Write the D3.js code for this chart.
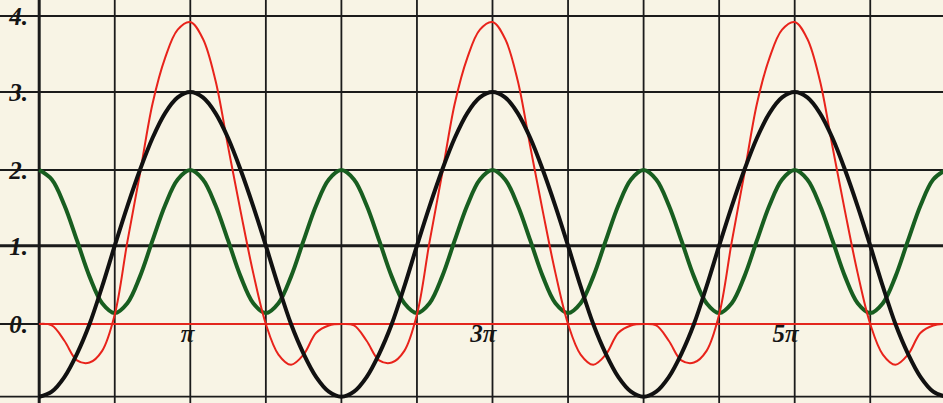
<!DOCTYPE html>
<html>
<head>
<meta charset="utf-8">
<script src="https://cdn.jsdelivr.net/npm/d3@7"></script>
<style>
  html, body { margin: 0; padding: 0; background: #f8f4e5; }
  svg { display: block; }
</style>
</head>
<body>
<svg id="chart" width="943" height="403"></svg>
<script>
// ---- data (x in units of π, sampled every π/12) ----
const xStep = 1 / 12;
const blackValues = [
  -1, -0.93, -0.73, -0.41, 0, 0.48, 1, 1.52, 2, 2.41, 2.73, 2.93, 3, 2.93, 2.73, 2.41, 2, 1.52, 1, 0.48, 0, -0.41, -0.73, -0.93,
  -1, -0.93, -0.73, -0.41, 0, 0.48, 1, 1.52, 2, 2.41, 2.73, 2.93, 3, 2.93, 2.73, 2.41, 2, 1.52, 1, 0.48, 0, -0.41, -0.73, -0.93,
  -1, -0.93, -0.73, -0.41, 0, 0.48, 1, 1.52, 2, 2.41, 2.73, 2.93, 3, 2.93, 2.73, 2.41, 2, 1.52, 1, 0.48, 0, -0.41, -0.73, -0.93,
  -1
];
const greenValues = [
  2.0, 1.875, 1.535, 1.07, 0.605, 0.265, 0.14, 0.265, 0.605, 1.07, 1.535, 1.875,
  2.0, 1.875, 1.535, 1.07, 0.605, 0.265, 0.14, 0.265, 0.605, 1.07, 1.535, 1.875,
  2.0, 1.875, 1.535, 1.07, 0.605, 0.265, 0.14, 0.265, 0.605, 1.07, 1.535, 1.875,
  2.0, 1.875, 1.535, 1.07, 0.605, 0.265, 0.14, 0.265, 0.605, 1.07, 1.535, 1.875,
  2.0, 1.875, 1.535, 1.07, 0.605, 0.265, 0.14, 0.265, 0.605, 1.07, 1.535, 1.875,
  2.0, 1.875, 1.535, 1.07, 0.605, 0.265, 0.14, 0.265, 0.605, 1.07, 1.535, 1.875,
  2.0
];
const redValues = [
  0, -0.02, -0.23, -0.5, -0.53, -0.37, 0.12, 1.05, 1.95, 2.85, 3.45, 3.82, 3.92, 3.7, 3.15, 2.3, 1.45, 0.65, 0.0, -0.42, -0.56, -0.42, -0.12, -0.02,
  0, -0.02, -0.23, -0.5, -0.53, -0.37, 0.12, 1.05, 1.95, 2.85, 3.45, 3.82, 3.92, 3.7, 3.15, 2.3, 1.45, 0.65, 0.0, -0.42, -0.56, -0.42, -0.12, -0.02,
  0, -0.02, -0.23, -0.5, -0.53, -0.37, 0.12, 1.05, 1.95, 2.85, 3.45, 3.82, 3.92, 3.7, 3.15, 2.3, 1.45, 0.65, 0.0, -0.42, -0.56, -0.42, -0.12, -0.02,
  0
];
const xGrid = [0, 0.5, 1, 1.5, 2, 2.5, 3, 3.5, 4, 4.5, 5, 5.5, 6];
const yGrid = [4, 3, 2, 1, -1];
const yTickValues = [4, 3, 2, 1, 0];
const yTickLabels = ["4.", "3.", "2.", "1.", "0."];
const xTickValues = [1, 3, 5];
const xTickLabels = ["π", "3π", "5π"];

// ---- scales ----
const svg = d3.select("#chart");
const W = 943, H = 403;
const x = d3.scaleLinear().domain([0, 6]).range([39.2, 945.8]);
const y = d3.scaleLinear().domain([-1, 0, 1, 2, 3, 4]).range([396.7, 324, 245.7, 170, 92, 16]);

svg.append("rect").attr("width", W).attr("height", H).attr("fill", "#f8f4e5");

const gridColor = "#1b1b1b";
// vertical grid
svg.append("g").selectAll("line").data(xGrid).join("line")
  .attr("x1", d => x(d)).attr("x2", d => x(d))
  .attr("y1", 0).attr("y2", H)
  .attr("stroke", gridColor)
  .attr("stroke-width", d => d === 0 ? 3 : 1.8);
// horizontal grid
svg.append("g").selectAll("line").data(yGrid).join("line")
  .attr("x1", 0).attr("x2", W)
  .attr("y1", d => y(d)).attr("y2", d => y(d))
  .attr("stroke", gridColor)
  .attr("stroke-width", d => d === 1 ? 3 : 1.8);
// black stub of the zero line left of the axis
svg.append("line")
  .attr("x1", 0).attr("x2", x(0)).attr("y1", y(0)).attr("y2", y(0))
  .attr("stroke", gridColor).attr("stroke-width", 1.8);
// red zero axis
svg.append("line")
  .attr("x1", x(0)).attr("x2", W).attr("y1", y(0)).attr("y2", y(0))
  .attr("stroke", "#e3261d").attr("stroke-width", 2);

// ---- curves ----
const line = d3.line()
  .x((d, i) => x(i * xStep))
  .y(d => y(d))
  .curve(d3.curveCatmullRom.alpha(0.5));

svg.append("path").datum(greenValues).attr("d", line)
  .attr("fill", "none").attr("stroke", "#185e20").attr("stroke-width", 4)
  .attr("stroke-linejoin", "round");
svg.append("path").datum(redValues).attr("d", line)
  .attr("fill", "none").attr("stroke", "#e8231b").attr("stroke-width", 2)
  .attr("stroke-linejoin", "round");
svg.append("path").datum(blackValues).attr("d", line)
  .attr("fill", "none").attr("stroke", "#111111").attr("stroke-width", 4)
  .attr("stroke-linejoin", "round");

// ---- labels ----
const font = "'Liberation Serif', 'DejaVu Serif', serif";
svg.append("g").selectAll("text").data(yTickValues).join("text")
  .attr("x", 28).attr("y", d => y(d) + 9)
  .attr("text-anchor", "end")
  .attr("font-family", font).attr("font-style", "italic").attr("font-weight", "bold")
  .attr("font-size", 25).attr("fill", "#151515")
  .text((d, i) => yTickLabels[i]);

svg.append("g").selectAll("text").data(xTickValues).join("text")
  .attr("x", d => x(d) + 4).attr("y", 342)
  .attr("text-anchor", "end")
  .attr("font-family", font).attr("font-style", "italic").attr("font-weight", "bold")
  .attr("font-size", 25).attr("fill", "#151515")
  .text((d, i) => xTickLabels[i]);
</script>
</body>
</html>
